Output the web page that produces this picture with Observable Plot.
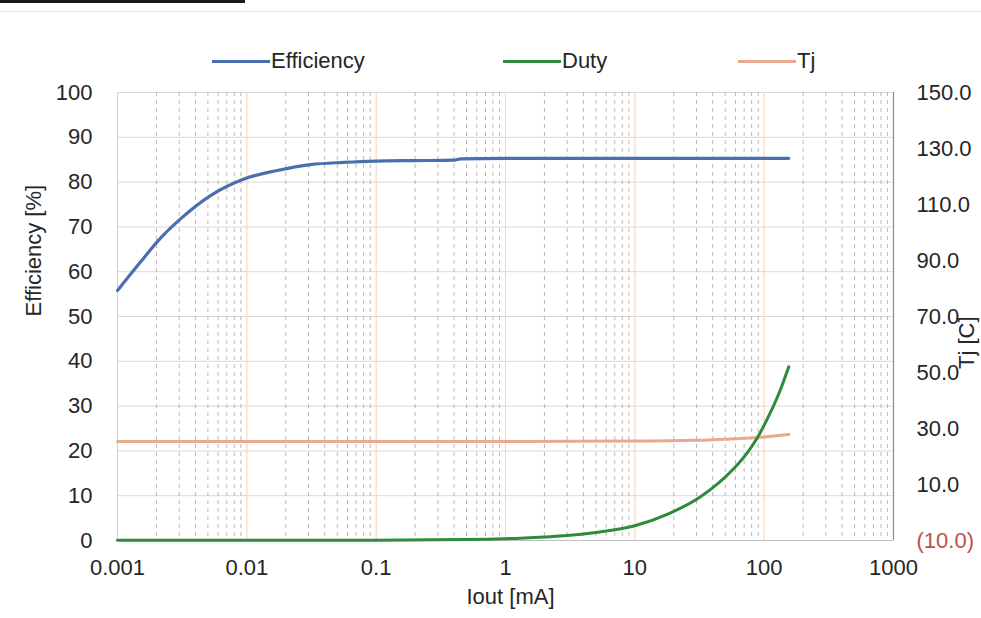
<!DOCTYPE html>
<html>
<head>
<meta charset="utf-8">
<script src="https://cdn.jsdelivr.net/npm/d3@7"></script>
<script src="https://cdn.jsdelivr.net/npm/@observablehq/plot@0.6"></script>
<style>
  html, body { margin: 0; padding: 0; background: #fff; }
  body { width: 981px; height: 618px; overflow: hidden; font-family: "Liberation Sans", Arial, sans-serif; color: #262626; }
  #header { position: relative; height: 70px; }
  .bar { position: absolute; left: 0; top: 0; width: 245px; height: 3px; background: #1a1a1a; }
  .rule { position: absolute; left: 0; right: 0; top: 11px; height: 1px; background: #e4e4e4; }
  .item { position: absolute; top: 61px; transform: translateY(-50%); display: flex; align-items: center; font-size: 22px; line-height: 1; }
  .sw { display: inline-block; width: 58px; height: 3px; margin-right: 1px; }
</style>
</head>
<body>
<div id="header">
  <div class="bar"></div>
  <div class="rule"></div>
  <div id="legend"></div>
</div>
<div id="chart"></div>
<script>
// ---- data ----
const seriesNames = ["Efficiency", "Duty", "Tj"];
const seriesColors = ["#4a6fae", "#2f8a3c", "#e9a98f"];

const effIout = [0.001, 0.0015, 0.00215, 0.00307, 0.00524, 0.0095, 0.0172, 0.031, 0.056, 0.1, 0.2, 0.4, 0.45, 1, 10, 100, 155];
const effValues = [55.8, 62.1, 67.5, 71.8, 77.0, 80.7, 82.6, 83.9, 84.4, 84.7, 84.8, 84.9, 85.2, 85.3, 85.3, 85.3, 85.3];

const dutyIout = [0.001, 0.01, 0.1, 0.5, 1, 2, 3, 5, 10, 18, 32, 58, 75, 88, 106, 130, 155];
const dutyValues = [0.05, 0.05, 0.08, 0.2, 0.4, 0.8, 1.1, 1.8, 3.3, 5.9, 9.7, 16.0, 19.8, 22.8, 27.2, 32.8, 38.8];

const tjIout = [0.001, 1, 10, 30, 50, 100, 155];
const tjValues = [25.4, 25.4, 25.5, 25.8, 26.2, 27.0, 27.9];

const xTicks = [0.001, 0.01, 0.1, 1, 10, 100, 1000];
const xTickLabels = ["0.001", "0.01", "0.1", "1", "10", "100", "1000"];
const yTicks = [0, 10, 20, 30, 40, 50, 60, 70, 80, 90, 100];
const tjTicks = [-10, 10, 30, 50, 70, 90, 110, 130, 150];

// secondary axis mapping: Tj [-10,150] onto left [0,100]
const tjToLeft = t => (t + 10) / 1.6;
const leftToTj = v => Math.round(v * 1.6 - 10);
const tjLabel = t => t < 0 ? `(${(-t).toFixed(1)})` : t.toFixed(1);

const effData = effIout.map((x, i) => ({x, y: effValues[i]}));
const dutyData = dutyIout.map((x, i) => ({x, y: dutyValues[i]}));
const tjData = tjIout.map((x, i) => ({x, y: tjToLeft(tjValues[i])}));

const decades = xTicks.slice(0, -1);
const minor = [];
decades.forEach(d => { for (let k = 2; k <= 9; k++) minor.push(+(k * d).toPrecision(3)); });
const majorInner = xTicks.slice(1, -1);

// ---- legend ----
const legendPos = [212, 503, 738];
const legend = document.getElementById("legend");
seriesNames.forEach((name, i) => {
  const it = document.createElement("div");
  it.className = "item";
  it.style.left = legendPos[i] + "px";
  it.innerHTML = `<span class="sw" style="background:${seriesColors[i]}"></span><span>${name}</span>`;
  legend.appendChild(it);
});

// ---- chart ----
const font = '"Liberation Sans", Arial, sans-serif';
const fs = 22;
const chart = Plot.plot({
  width: 981,
  height: 548,
  marginTop: 22,
  marginBottom: 78,
  marginLeft: 117,
  marginRight: 88,
  style: {fontFamily: font, fontSize: fs + "px", color: "#262626", background: "#fff"},
  x: {type: "log", domain: [0.001, 1000]},
  y: {domain: [0, 100]},
  marks: [
    Plot.ruleY(yTicks.slice(1), {stroke: "#d9d9d9", strokeWidth: 1}),
    Plot.ruleX(minor, {stroke: "#b8b8b8", strokeWidth: 1, strokeDasharray: "4,4"}),
    Plot.ruleX(majorInner, {stroke: "#f5d8c0", strokeWidth: 1.2}),
    Plot.ruleX([0.001], {stroke: "#d0d0d0"}),
    Plot.ruleY([0], {stroke: "#bfbfbf"}),
    Plot.ruleX([1000], {stroke: "#8c8c8c", strokeWidth: 1.2}),
    Plot.axisX({ticks: xTicks, tickFormat: d => xTickLabels[xTicks.indexOf(d)], tickSize: 0, tickPadding: 19, label: null, fontSize: fs}),
    Plot.axisY({ticks: yTicks, tickSize: 0, tickPadding: 25, label: null, fontSize: fs}),
    Plot.axisY({anchor: "right", ticks: tjTicks.map(tjToLeft), tickFormat: v => tjLabel(leftToTj(v)), tickSize: 0, tickPadding: 23, label: null, fontSize: fs}),
    Plot.text(["Iout [mA]"], {frameAnchor: "bottom", dx: 5, dy: 63, fontSize: fs}),
    Plot.text(["Efficiency [%]"], {frameAnchor: "left", rotate: -90, dx: -84, dy: 0, fontSize: fs}),
    Plot.text(["Tj [C]"], {frameAnchor: "right", rotate: -90, dx: 73, dy: 0, fontSize: fs}),
    Plot.line(tjData, {x: "x", y: "y", stroke: seriesColors[2], strokeWidth: 3, curve: "monotone-x"}),
    Plot.line(dutyData, {x: "x", y: "y", stroke: seriesColors[1], strokeWidth: 3, curve: "monotone-x"}),
    Plot.line(effData, {x: "x", y: "y", stroke: seriesColors[0], strokeWidth: 3.2, curve: "monotone-x"})
  ]
});
d3.select(chart).selectAll("text").filter(function() { return this.textContent === "(10.0)"; }).attr("fill", "#c0504d");
document.getElementById("chart").appendChild(chart);
</script>
</body>
</html>
